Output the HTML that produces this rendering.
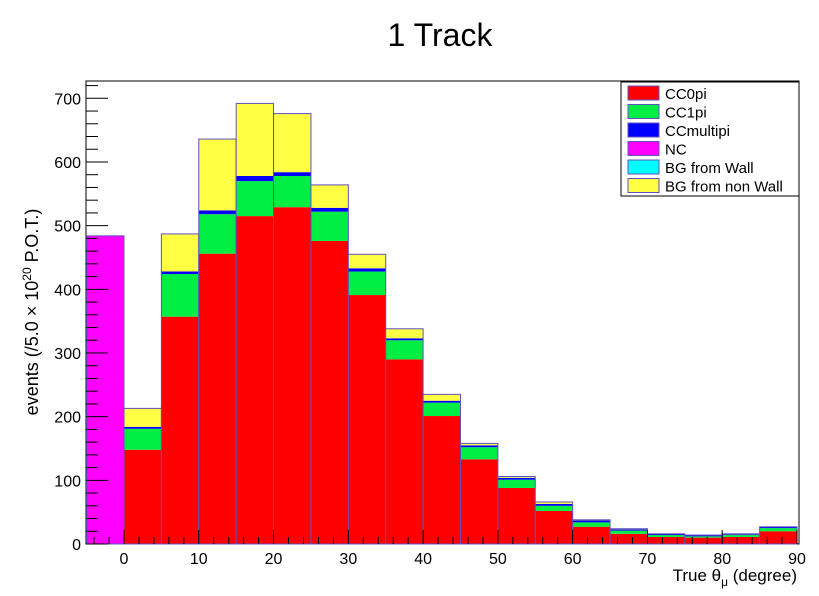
<!DOCTYPE html>
<html><head><meta charset="utf-8"><style>
body{margin:0;background:#fff;font-family:"Liberation Sans",sans-serif;}
svg text{font-family:"Liberation Sans",sans-serif;}
</style></head><body>
<svg width="819" height="591" xmlns="http://www.w3.org/2000/svg">
<text x="440" y="46" font-size="32" text-anchor="middle">1 Track</text>
<rect x="86" y="81" width="713" height="463" fill="#fff" stroke="#000" stroke-width="1"/>
<g id="bars"></g>
<g id="axes"></g>
<text transform="translate(38,312) rotate(-90)" font-size="18" text-anchor="middle">events (/5.0 × 10<tspan dy="-7" font-size="12">20</tspan><tspan dy="7"> P.O.T.)</tspan></text>
<text x="797" y="581" font-size="17" text-anchor="end">True θ<tspan dy="5" font-size="12">μ</tspan><tspan dy="-5"> (degree)</tspan></text>
<g>
<rect x="621" y="82" width="178" height="114" fill="#fff" stroke="#000" stroke-width="1"/>
<g id="legend"></g>
</g>
</svg>
<script>
const binStarts=[-5,0,5,10,15,20,25,30,35,40,45,50,55,60,65,70,75,80,85];
const nc=[484,0,0,0,0,0,0,0,0,0,0,0,0,0,0,0,0,0,0];
const cc0pi=[0,148,357,456,515,529,476,391,290,201,133,88,52,27,16,11,10,11,20];
const cc1pi=[0,33,67,62,55,49,46,37,30,21,19,13,8,7,5,3,2,3,5];
const ccmulti=[0,3,4,6,8,6,6,5,3,3,3,3,3,3,2,2,2,1,2];
const bgWall=[0,0,0,0,0,0,0,0,0,0,0,0,0,0,0,0,0,0,0];
const bgNonWall=[0,29,59,112,114,92,36,22,15,10,3,2,3,1,1,0,0,1,0];
const xTicks=[0,10,20,30,40,50,60,70,80,90];
const yTicks=[0,100,200,300,400,500,600,700];
const NS="http://www.w3.org/2000/svg";
const X=v=>124+(v*(797-124)/90);
const Y=v=>544-v*0.6367;
function el(t,a,p){const e=document.createElementNS(NS,t);for(const k in a)e.setAttribute(k,a[k]);p.appendChild(e);return e;}
const bars=document.getElementById('bars');
const series=[["cc0pi",cc0pi,"#ff0000"],["cc1pi",cc1pi,"#00ee44"],["ccmultipi",ccmulti,"#0000ff"],["nc",nc,"#ff00ff"],["bg-wall",bgWall,"#00ffff"],["bg-nonwall",bgNonWall,"#ffff44"]];
binStarts.forEach((b,i)=>{
 let base=0;
 series.forEach(s=>{const v=s[1][i];if(v<=0)return;
  const r=el('rect',{x:X(b),y:Y(base+v),width:X(b+5)-X(b),height:Y(base)-Y(base+v),fill:s[2]},bars);
  
  
  base+=v;});
 const o=el('rect',{x:X(b),y:Y(base),width:X(b+5)-X(b),height:Y(0)-Y(base),fill:'none',stroke:'#6050c0','stroke-width':1},bars);
 
 
});
const ax=document.getElementById('axes');
for(let v=-4;v<=90;v+=2){const big=v%10===0,mid=v%5===0;const h=big?14:(mid?10:7);
 el('line',{x1:X(v),x2:X(v),y1:544,y2:544-h,stroke:'#000'},ax);}
xTicks.forEach(v=>{const t=el('text',{x:X(v),y:564,'font-size':16,'text-anchor':'middle'},ax);t.textContent=v;
 
 });
for(let v=0;v<=720;v+=20){const h=v%100===0?22:12;el('line',{x1:86,x2:86+h,y1:Y(v),y2:Y(v),stroke:'#000'},ax);}
yTicks.forEach(v=>{const t=el('text',{x:81,y:Y(v)+6,'font-size':16,'text-anchor':'end'},ax);t.textContent=v;
 
 });
const lg=document.getElementById('legend');
const labels=["CC0pi","CC1pi","CCmultipi","NC","BG from Wall","BG from non Wall"];
const cols=["#ff0000","#00ee44","#0000ff","#ff00ff","#00ffff","#ffff44"];
labels.forEach((l,i)=>{const y=85+i*18.5;
 el('rect',{x:628,y:y+1,width:31,height:14,fill:cols[i],stroke:'#6050c0'},lg);
 const t=el('text',{x:665,y:y+14,'font-size':15},lg);t.textContent=l;
 
 });
</script>
</body></html>
